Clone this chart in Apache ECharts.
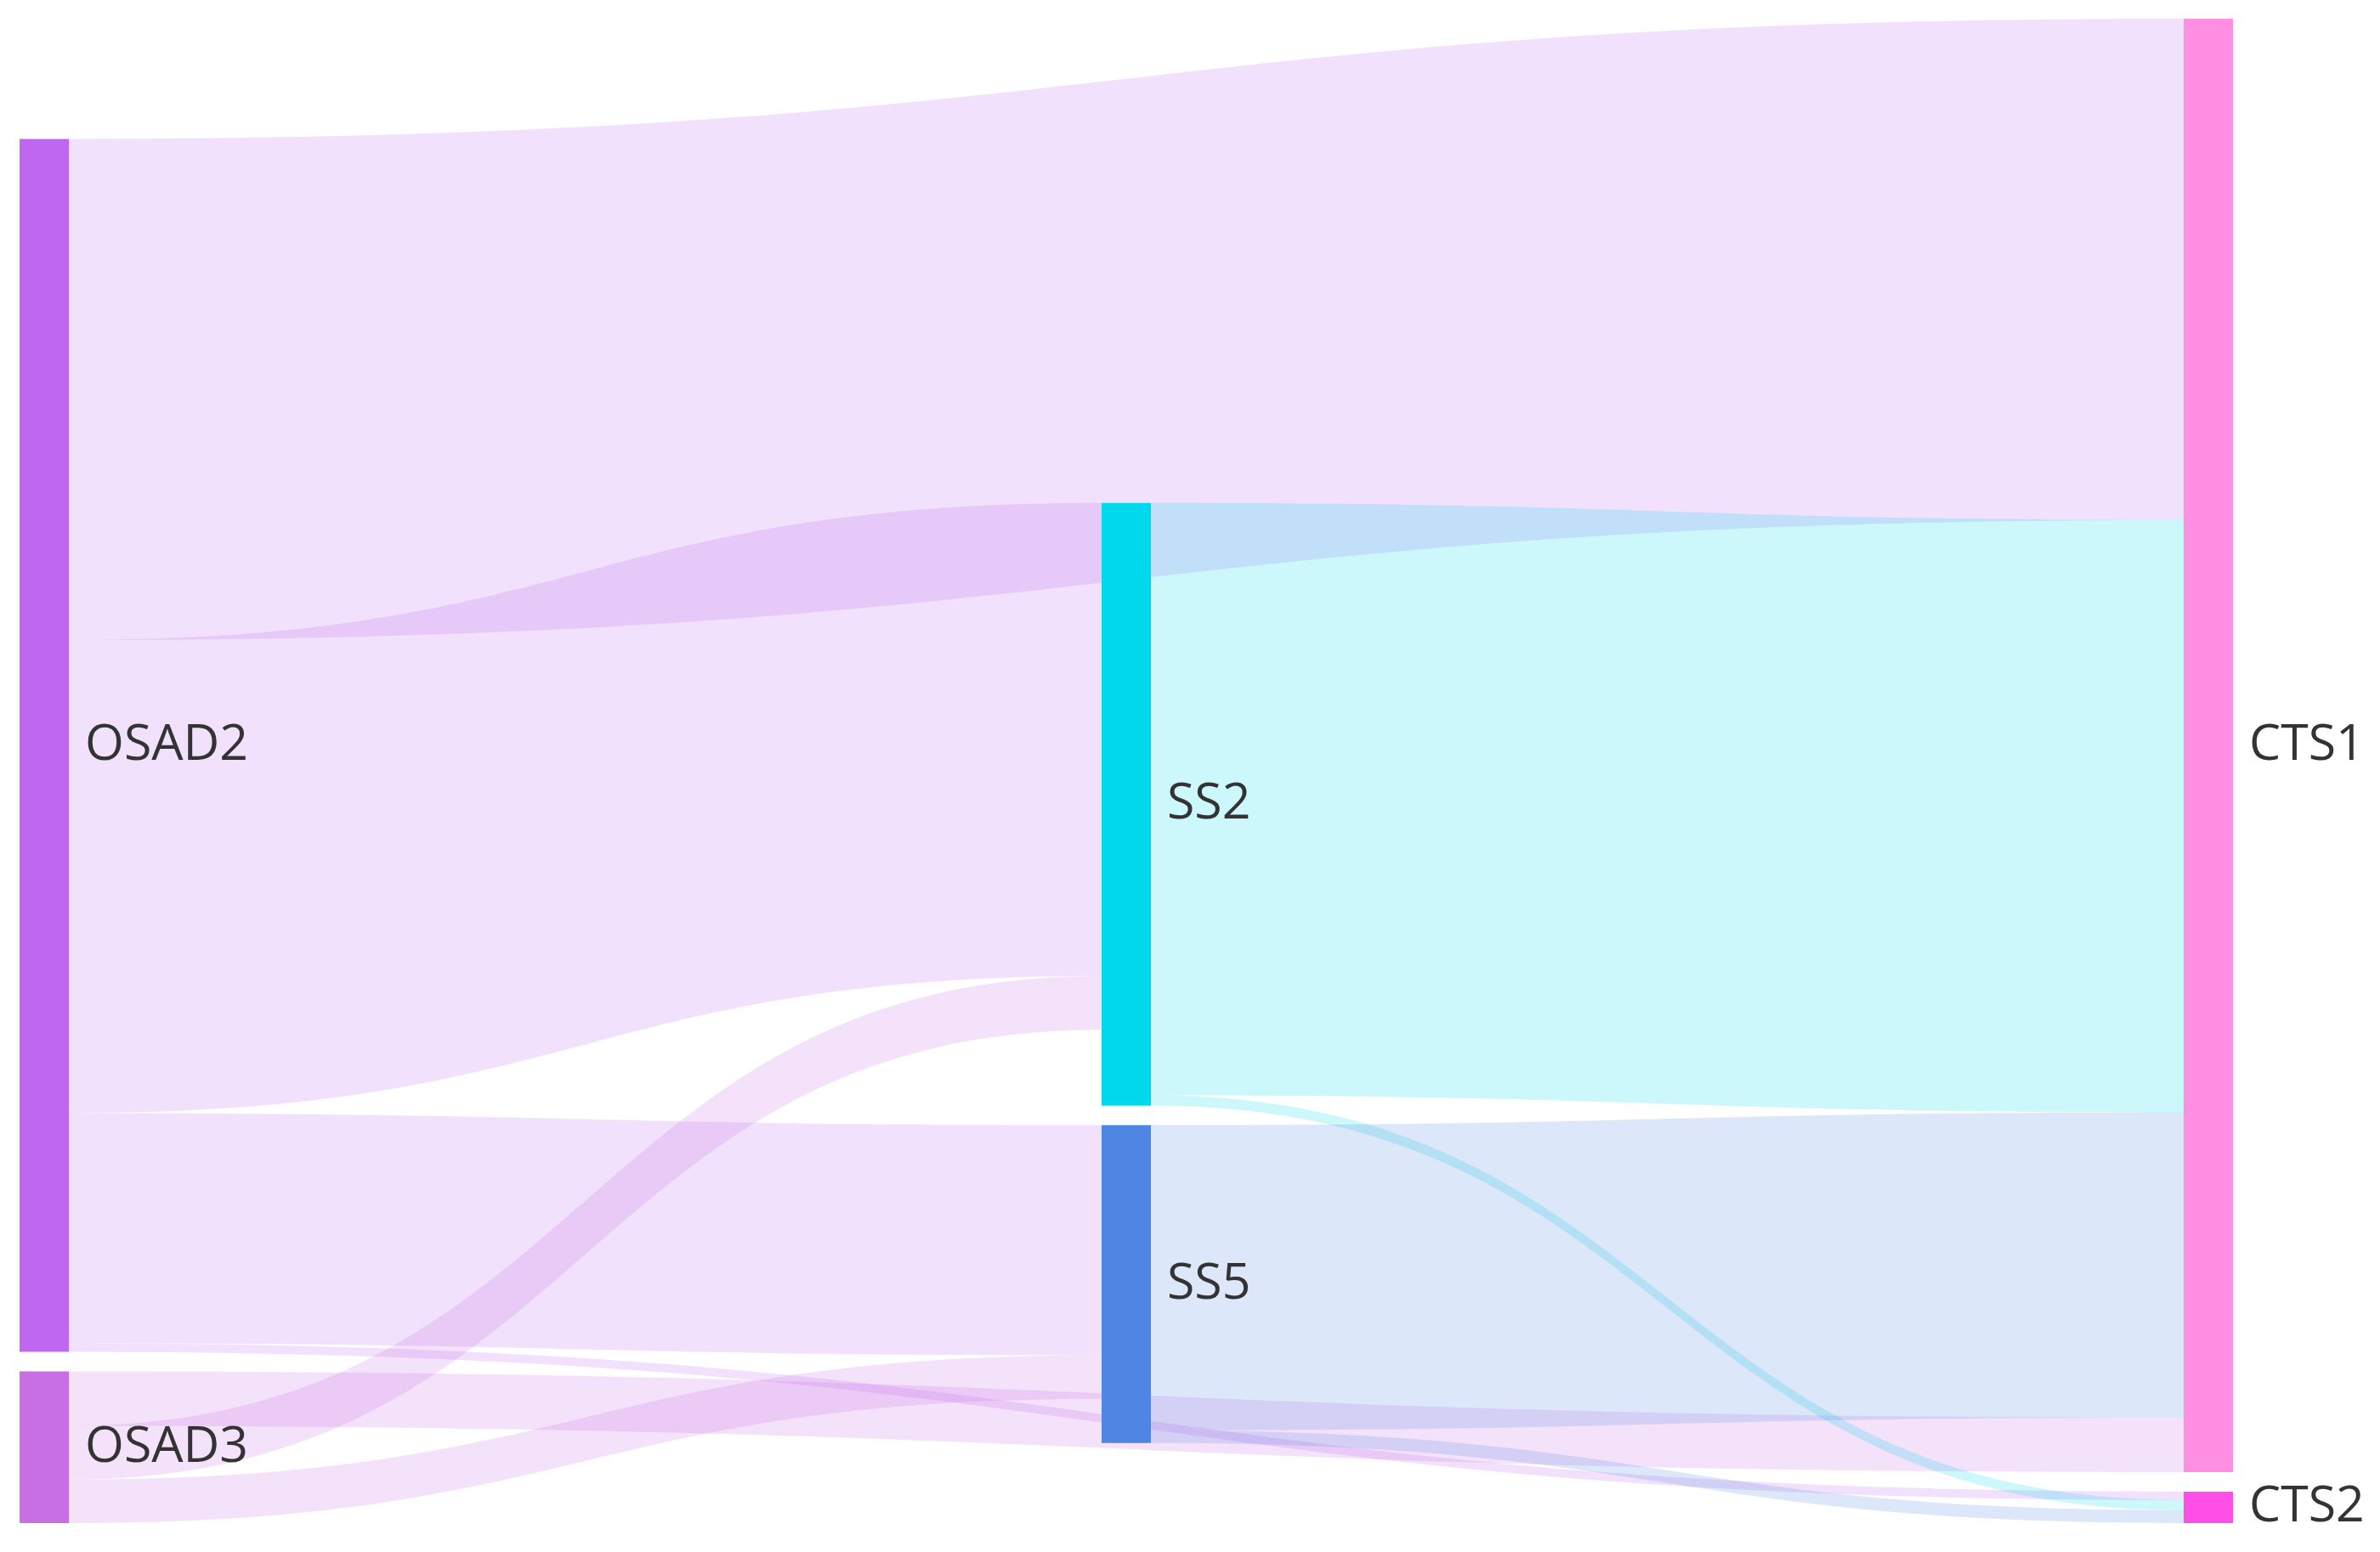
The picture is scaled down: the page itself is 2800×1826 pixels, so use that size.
<!DOCTYPE html>
<html>
<head>
<meta charset="utf-8">
<script src="https://cdn.jsdelivr.net/npm/echarts@6/dist/echarts.min.js"></script>
<style>
  html, body { margin: 0; padding: 0; background: #fff; }
  #chart { width: 2800px; height: 1826px; }
</style>
</head>
<body>
<div id="chart"></div>
<script>
"use strict";
// ---- data ----
const NODE_NAMES = ["OSAD2", "OSAD3", "SS2", "SS5", "CTS1", "CTS2"];
const NODE_COLORS = ["#c067f1", "#c96fe6", "#00d9ec", "#4f86e3", "#ff8fe3", "#ff4ee8"];
const LINK_SOURCES = ["OSAD2", "OSAD2", "OSAD2", "OSAD2", "OSAD3", "OSAD3", "OSAD3", "SS2", "SS2", "SS5", "SS5"];
const LINK_TARGETS = ["CTS1", "SS2", "SS5", "CTS2", "CTS1", "SS2", "SS5", "CTS1", "CTS2", "CTS1", "CTS2"];
const LINK_VALUES = [588, 555, 270, 10, 64, 63, 51, 695, 12, 358, 15];

const chart = echarts.init(document.getElementById("chart"), null, { renderer: "canvas" });

chart.setOption({
  animation: false,
  backgroundColor: "#ffffff",
  series: [{
    type: "sankey",
    left: 23, right: 173, top: 22, bottom: 34,
    nodeWidth: 58,
    nodeGap: 23,
    draggable: false,
    emphasis: { disabled: true },
    label: {
      position: "right", distance: 19,
      fontFamily: "Open Sans", fontSize: 59, color: "#333333"
    },
    lineStyle: { color: "source", opacity: 0.2, curveness: 0.5 },
    data: NODE_NAMES.map((n, i) => ({ name: n, itemStyle: { color: NODE_COLORS[i], borderWidth: 0 } })),
    links: LINK_VALUES.map((v, i) => ({ source: LINK_SOURCES[i], target: LINK_TARGETS[i], value: v }))
  }]
});
</script>
</body>
</html>
